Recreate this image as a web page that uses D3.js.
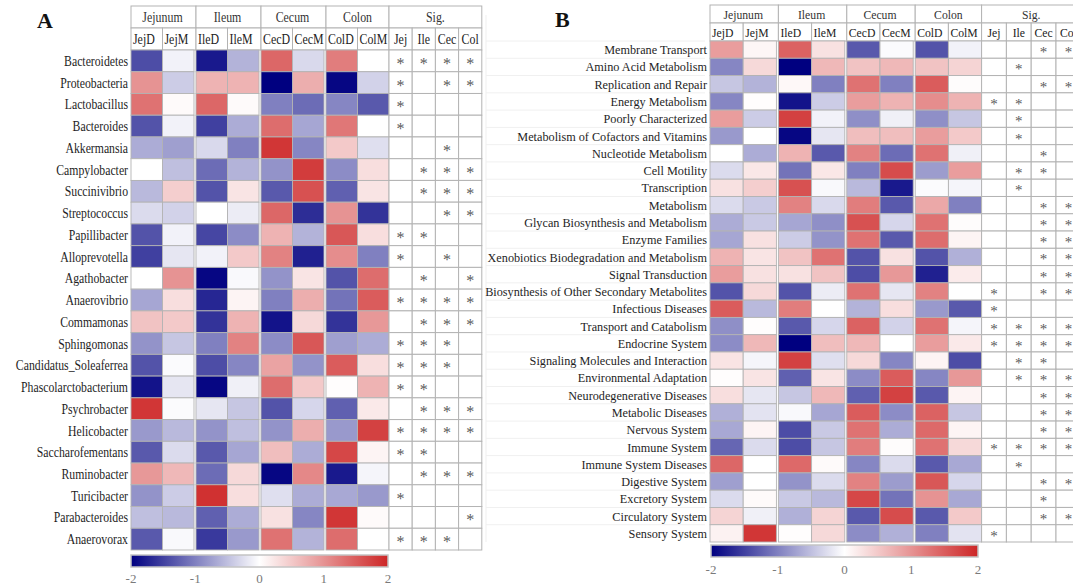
<!DOCTYPE html>
<html><head><meta charset="utf-8">
<script src="https://cdn.jsdelivr.net/npm/d3@7"></script>
<style>
body{margin:0;background:#fff;overflow:hidden;}
svg{display:block;font-family:"Liberation Serif","Times New Roman",serif;}
</style>
</head><body>
<svg id="chart" width="1073" height="587"></svg>
<script>
// ---- shared column structure ----
const groups = ["Jejunum", "Ileum", "Cecum", "Colon"];
const columns = ["JejD", "JejM", "IleD", "IleM", "CecD", "CecM", "ColD", "ColM"];
const sigColumns = ["Jej", "Ile", "Cec", "Col"];
const legendTicks = [-2, -1, 0, 1, 2];

// ---- panel A: genera ----
const generaA = ["Bacteroidetes", "Proteobacteria", "Lactobacillus", "Bacteroides", "Akkermansia",
  "Campylobacter", "Succinivibrio", "Streptococcus", "Papillibacter", "Alloprevotella", "Agathobacter",
  "Anaerovibrio", "Commamonas", "Sphingomonas", "Candidatus_Soleaferrea", "Phascolarctobacterium",
  "Psychrobacter", "Helicobacter", "Saccharofementans", "Ruminobacter", "Turicibacter",
  "Parabacteroides", "Anaerovorax"];
const valuesA = [
  [-1.4, -0.1, -1.8, -0.6, 1.4, -0.3, 1.2, 0.0],
  [1.0, -0.4, 0.7, 0.7, -2.0, 0.75, -1.95, -0.35],
  [1.3, 0.05, 1.4, 0.05, -1.0, -1.15, -0.95, -1.3],
  [-1.35, -0.1, -1.5, -0.65, 1.35, -0.7, 1.25, 0.0],
  [-0.65, -0.75, -0.3, -1.0, 1.85, -0.95, 0.5, -0.25],
  [0.0, -0.5, -1.15, -0.6, -0.85, 1.8, -0.9, 0.3],
  [-0.55, 0.45, -1.35, 0.25, -1.3, 1.6, -1.25, 0.25],
  [-0.28, -0.35, 0.0, -0.15, 1.4, -1.65, 1.0, -1.6],
  [-1.35, -0.1, -1.45, -0.9, 0.7, -0.6, 1.55, 0.3],
  [-1.5, -0.2, -0.1, 0.5, 1.15, -1.75, 1.05, -1.0],
  [0.0, 1.0, -1.95, -0.05, -0.85, 0.25, -1.35, 1.35],
  [-0.7, 0.3, -1.7, 0.1, -1.0, 0.75, -1.1, 1.5],
  [0.55, 0.5, -1.6, 0.7, -1.85, 0.35, -1.6, 0.95],
  [-0.85, -0.45, -1.0, 1.15, -0.9, 1.55, -0.75, -0.65],
  [-1.35, -0.03, -1.4, -0.95, 0.85, -0.85, 1.5, 0.3],
  [-1.85, -0.2, -1.95, -0.12, 1.35, 0.5, 0.02, 0.7],
  [1.85, -0.03, -0.2, -0.45, -1.35, -0.32, -1.25, 0.2],
  [-0.8, -0.55, -0.85, -0.5, -0.85, 0.75, -0.8, 1.75],
  [-1.3, -0.28, -1.3, -0.7, 0.6, -0.65, 1.7, 0.1],
  [0.95, 0.65, -1.15, 0.35, -1.95, 1.1, -1.8, -0.08],
  [-0.85, -0.4, 1.9, 0.3, -0.25, -0.65, -0.68, -0.8],
  [-0.5, -0.55, -1.25, -0.65, 0.28, -0.95, 1.85, 0.05],
  [-1.3, -0.05, -1.55, -0.8, 1.3, -0.6, 1.35, 0.0]
];
const sigA = [
  [1,1,1,1],[1,0,1,1],[1,0,0,0],[1,0,0,0],[0,0,1,0],[0,1,1,1],[0,1,1,1],[0,0,1,1],
  [1,1,0,0],[1,0,1,0],[0,1,0,1],[1,1,1,1],[0,1,1,1],[1,1,1,0],[1,1,1,0],[1,1,0,0],
  [0,1,1,1],[1,1,1,1],[1,1,0,0],[0,1,1,1],[1,0,0,0],[0,0,0,1],[1,1,1,0]
];

// ---- panel B: predicted functional pathways ----
const pathwaysB = ["Membrane Transport", "Amino Acid Metabolism", "Replication and Repair",
  "Energy Metabolism", "Poorly Characterized", "Metabolism of Cofactors and Vitamins",
  "Nucleotide Metabolism", "Cell Motility", "Transcription", "Metabolism",
  "Glycan Biosynthesis and Metabolism", "Enzyme Families", "Xenobiotics Biodegradation and Metabolism",
  "Signal Transduction", "Biosynthesis of Other Secondary Metabolites", "Infectious Diseases",
  "Transport and Catabolism", "Endocrine System", "Signaling Molecules and Interaction",
  "Environmental Adaptation", "Neurodegenerative Diseases", "Metabolic Diseases", "Nervous System",
  "Immune System", "Immune System Diseases", "Digestive System", "Excretory System",
  "Circulatory System", "Sensory System"];
const valuesB = [
  [0.9, 0.08, 1.45, 0.28, -1.3, -0.03, -1.35, -0.1],
  [-0.95, 0.35, -2.0, 0.65, 0.55, 0.65, 0.55, 0.4],
  [-0.45, -0.6, 0.06, -1.0, 1.3, -1.0, 1.5, 0.03],
  [-0.95, 0.02, -1.85, -0.4, 0.9, 0.7, 1.05, 0.7],
  [0.9, -0.4, 1.75, -0.1, -0.88, -0.12, -0.88, -0.45],
  [-0.8, 0.0, -1.95, -0.2, 0.6, 0.6, 0.9, 0.5],
  [0.0, -0.65, 0.7, -1.3, 1.15, -1.15, 1.3, -0.12],
  [-0.28, 0.22, -1.1, 0.22, -1.0, 1.65, -0.78, 0.9],
  [0.28, 0.45, 1.6, -0.05, -0.55, -1.8, -0.03, -0.08],
  [-0.28, -0.42, 1.15, -0.3, 1.2, -1.3, 0.8, -1.0],
  [-0.65, -0.42, -0.7, -0.88, 1.6, -0.32, 1.3, 0.03],
  [-0.7, 0.28, -0.4, -0.85, 1.3, -1.3, 1.35, 0.1],
  [0.7, 0.25, 0.55, 1.3, -1.35, 0.28, -1.35, -0.62],
  [0.9, 0.28, 0.28, 0.55, -1.4, 0.95, -1.75, 0.18],
  [-1.35, 0.35, -1.35, -0.15, 1.3, -0.2, 1.15, 0.0],
  [1.5, -0.55, 1.2, 0.0, -0.6, 0.3, -0.8, -1.3],
  [-0.88, 0.02, -1.3, -0.32, 1.45, -0.35, 1.3, -0.08],
  [-0.9, 0.65, -2.0, 0.6, 0.65, 0.0, 0.9, 0.2],
  [0.25, -0.08, 1.75, -0.25, 0.35, -0.95, 0.1, -1.4],
  [0.02, 0.25, -1.25, 0.25, -0.9, 1.5, -0.95, 0.95],
  [0.3, -0.2, -0.45, 0.65, -1.25, 1.75, -1.3, 0.1],
  [-0.62, -0.22, -0.05, -0.7, 1.5, -0.9, 1.45, -0.45],
  [-0.68, 0.1, -1.4, -0.42, 1.3, -0.65, 1.38, 0.1],
  [-1.2, -0.28, -1.4, -0.45, 1.2, 0.03, 1.3, 0.35],
  [1.4, 0.0, 1.38, 0.05, -0.95, -0.28, -1.3, -0.68],
  [-0.75, 0.0, -0.85, -0.28, 1.15, -0.78, 1.55, -0.32],
  [-0.28, 0.05, -0.42, -0.55, 1.7, -1.1, 1.0, -0.68],
  [0.4, -0.12, -0.62, 0.4, -1.3, 1.65, -1.3, 0.5],
  [0.12, 1.85, 0.02, 0.35, -0.9, -0.62, -1.0, -0.22]
];
const sigB = [
  [0,0,1,1],[0,1,0,0],[0,0,1,1],[1,1,0,0],[0,1,0,0],[0,1,0,0],[0,0,1,0],[0,1,1,0],
  [0,1,0,0],[0,0,1,1],[0,0,1,1],[0,0,1,1],[0,0,1,1],[0,0,1,1],[1,0,1,1],[1,0,0,0],
  [1,1,1,1],[1,1,1,1],[0,1,1,0],[0,1,1,1],[0,0,1,1],[0,0,1,1],[0,0,1,1],[1,1,1,1],
  [0,1,0,0],[0,0,1,1],[0,0,1,0],[0,0,1,1],[1,0,0,0]
];

// diverging palette: navy -> white -> firebrick
const color = d3.scaleLinear().domain([-2, 0, 2]).range(["#000080", "#ffffff", "#cd2626"]).clamp(true);

const svg = d3.select("#chart");
const defs = svg.append("defs");
const grid = "#b3b3b3";

function squeezedText(g, x, y, str, size, sx, anchor, fill) {
  return g.append("text")
    .attr("transform", `translate(${x},${y}) scale(${sx},1)`)
    .attr("text-anchor", anchor)
    .attr("dy", "0.35em")
    .attr("font-size", size)
    .attr("fill", fill)
    .text(str);
}

function drawPanel(cfg) {
  const g = svg.append("g");
  const groupStep = 2 * cfg.colW + cfg.gap;
  const dataRight = cfg.x0 + 4 * groupStep - cfg.gap;

  const gx = d3.scaleBand().domain(groups).range([cfg.x0, cfg.x0 + 4 * groupStep]).paddingInner(0).paddingOuter(0);
  const inner = d3.scaleBand().domain([0, 1]).range([0, 2 * cfg.colW]);
  const colX = i => gx(groups[Math.floor(i / 2)]) + inner(i % 2);
  const sx = d3.scaleBand().domain(sigColumns).range([dataRight, dataRight + 4 * cfg.sigW]);
  const y = d3.scaleBand().domain(cfg.rows).range([cfg.rowTop, cfg.rowBottom]);

  // faint backing grid to the left of the table
  if (cfg.ghost) {
    cfg.rows.forEach(r => {
      g.append("line").attr("x1", cfg.ghost).attr("x2", cfg.labelX - 2)
        .attr("y1", y(r)).attr("y2", y(r)).attr("stroke", "#f0f0f0");
    });
    g.append("line").attr("x1", cfg.ghost).attr("x2", cfg.ghost)
      .attr("y1", cfg.top + 10).attr("y2", cfg.rowBottom).attr("stroke", "#efefef");
  }

  // header row 1: tissue groups + Sig.
  const h1 = cfg.top, h2 = cfg.top + cfg.headH;
  groups.forEach((grp, gi) => {
    const x = gx(grp);
    const w = gi < 3 ? groupStep : groupStep - cfg.gap;
    g.append("rect").attr("x", x).attr("y", h1).attr("width", w).attr("height", cfg.headH)
      .attr("fill", "#fff").attr("stroke", grid);
    squeezedText(g, x + (2 * cfg.colW) / 2, h1 + cfg.headH / 2, grp, cfg.headSize, cfg.headSx, "middle", "#333");
  });
  g.append("rect").attr("x", dataRight).attr("y", h1).attr("width", 4 * cfg.sigW).attr("height", cfg.headH)
    .attr("fill", "#fff").attr("stroke", grid);
  squeezedText(g, dataRight + 2 * cfg.sigW, h1 + cfg.headH / 2, "Sig.", cfg.headSize, cfg.headSx, "middle", "#333");

  // header row 2: column names
  columns.forEach((c, i) => {
    const x = colX(i);
    const w = (i % 2 === 1 && i < 7) ? cfg.colW + cfg.gap : cfg.colW;
    g.append("rect").attr("x", x).attr("y", h2).attr("width", w).attr("height", cfg.headH)
      .attr("fill", "#fff").attr("stroke", grid);
    squeezedText(g, x + 2, h2 + cfg.headH / 2, c, cfg.headSize, cfg.headSx, "start", "#222");
  });
  sigColumns.forEach(c => {
    g.append("rect").attr("x", sx(c)).attr("y", h2).attr("width", sx.bandwidth()).attr("height", cfg.headH)
      .attr("fill", "#fff").attr("stroke", grid);
    squeezedText(g, sx(c) + sx.bandwidth() / 2, h2 + cfg.headH / 2, c, cfg.headSize, cfg.headSx, "middle", "#222");
  });

  // heat cells
  cfg.rows.forEach((r, ri) => {
    cfg.values[ri].forEach((v, ci) => {
      g.append("rect").attr("x", colX(ci)).attr("y", y(r))
        .attr("width", cfg.colW).attr("height", y.bandwidth())
        .attr("fill", color(v)).attr("stroke", grid).attr("stroke-width", 0.9);
    });
    // significance cells
    sigColumns.forEach((c, si) => {
      g.append("rect").attr("x", sx(c)).attr("y", y(r)).attr("width", sx.bandwidth()).attr("height", y.bandwidth())
        .attr("fill", "#fff").attr("stroke", grid);
      if (cfg.sig[ri][si]) {
        g.append("text").attr("x", sx(c) + sx.bandwidth() / 2).attr("y", y(r) + y.bandwidth() / 2 + cfg.starSize * 0.5)
          .attr("text-anchor", "middle").attr("font-size", cfg.starSize).attr("fill", "#5a5a5a").text("*");
      }
    });
    // row label
    squeezedText(g, cfg.labelX, y(r) + y.bandwidth() / 2, r, cfg.fontSize, cfg.labelSx, "end", "#1e1e1e");
  });

  // colour key
  const gid = "grad" + cfg.letter;
  const grad = defs.append("linearGradient").attr("id", gid);
  d3.range(-2, 2.01, 0.25).forEach(t => {
    grad.append("stop").attr("offset", ((t + 2) / 4 * 100) + "%").attr("stop-color", color(t));
  });
  const lx = d3.scaleLinear().domain([-2, 2]).range([cfg.legend.x0, cfg.legend.x1]);
  g.append("rect").attr("x", lx(-2)).attr("y", cfg.legend.y).attr("width", lx(2) - lx(-2)).attr("height", cfg.legend.h)
    .attr("fill", `url(#${gid})`).attr("stroke", "#c4c4c4").attr("stroke-width", 1.5);
  legendTicks.forEach(t => {
    g.append("text").attr("x", lx(t)).attr("y", cfg.legend.labelY).attr("text-anchor", "middle")
      .attr("font-size", 13).attr("fill", "#7a7a7a").text(t);
  });

  // panel letter
  g.append("text").attr("x", cfg.letterX).attr("y", cfg.letterY).attr("font-size", 22)
    .attr("font-weight", "bold").attr("fill", "#111").text(cfg.letter);
}

drawPanel({
  letter: "A", letterX: 37, letterY: 28,
  rows: generaA, values: valuesA, sig: sigA,
  x0: 131, colW: 31.5, gap: 2, sigW: 23.2,
  top: 6, headH: 22, rowTop: 50, rowBottom: 550,
  labelX: 128, fontSize: 14.5, labelSx: 0.81, headSize: 14.5, headSx: 0.82, starSize: 16,
  legend: { x0: 131, x1: 388, y: 555, h: 12, labelY: 583 }
});

drawPanel({
  letter: "B", letterX: 555, letterY: 27, ghost: 486,
  rows: pathwaysB, values: valuesB, sig: sigB,
  x0: 710, colW: 33.2, gap: 2, sigW: 24.8,
  top: 5, headH: 18, rowTop: 41, rowBottom: 542,
  labelX: 707, fontSize: 13, labelSx: 0.94, headSize: 13, headSx: 0.9, starSize: 15,
  legend: { x0: 711, x1: 978, y: 545, h: 12, labelY: 574 }
});
</script>
</body></html>
